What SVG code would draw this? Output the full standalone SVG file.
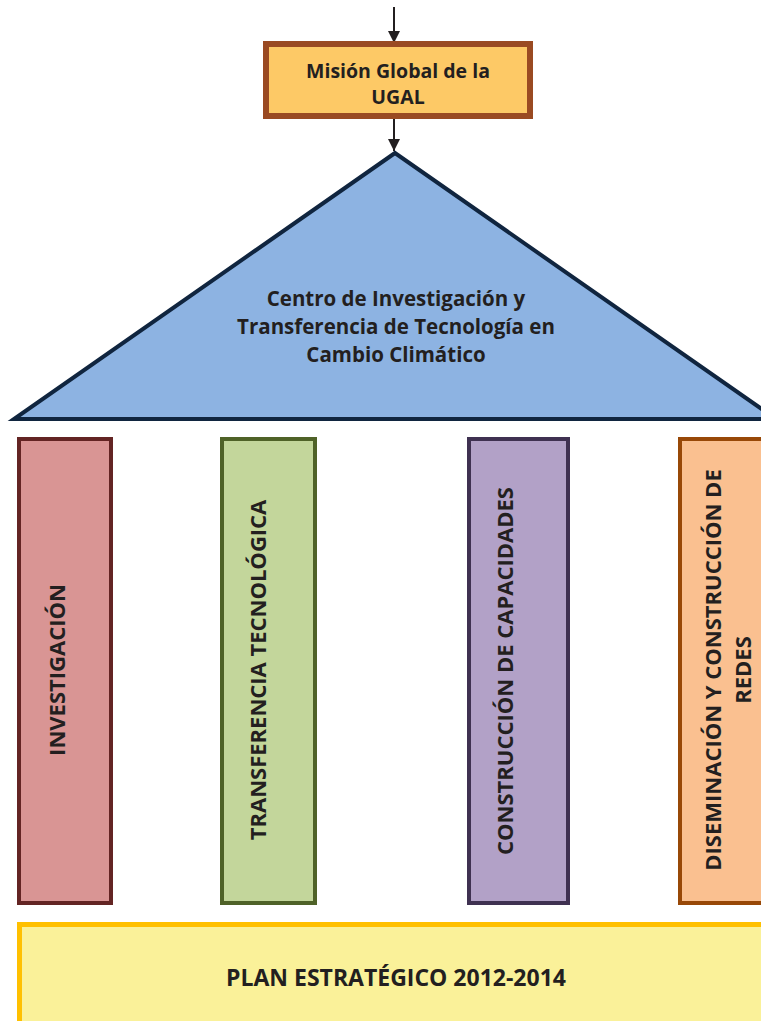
<svg xmlns="http://www.w3.org/2000/svg" width="761" height="1021" viewBox="0 0 761 1021">
<defs>
<style>
.t{font-family:"Open Sans","Noto Sans","Liberation Sans",sans-serif;font-weight:bold;fill:#231f20;text-anchor:middle}
.p{stroke-width:4}
</style>
<marker id="ah" markerWidth="12" markerHeight="12" refX="12" refY="6" orient="auto" markerUnits="userSpaceOnUse">
<path d="M0,0 L12,6 L0,12 Z" fill="#231f20"/>
</marker>
</defs>
<rect width="761" height="1021" fill="#ffffff"/>
<g id="connectors">
<line x1="394" y1="7" x2="394" y2="43" stroke="#231f20" stroke-width="2" marker-end="url(#ah)"/>
<line x1="394" y1="119" x2="394" y2="151" stroke="#231f20" stroke-width="2" marker-end="url(#ah)"/>
</g>
<g id="mision">
<rect x="266" y="44" width="264" height="72" fill="#fdc966" stroke="#9a4a22" stroke-width="6"/>
<text class="t" x="398" y="78" font-size="19.5">Misión Global de la</text>
<text class="t" x="398" y="104" font-size="19.5">UGAL</text>
</g>
<g id="centro">
<polygon points="395,153 14,419 776,419" fill="#8db3e2" stroke="#10253f" stroke-width="4" stroke-linejoin="miter"/>
<text class="t" x="396" y="306" font-size="20.5">Centro de Investigación y</text>
<text class="t" x="396" y="334" font-size="20.5">Transferencia de Tecnología en</text>
<text class="t" x="396" y="362" font-size="20.5">Cambio Climático</text>
</g>
<g id="investigacion">
<rect class="p" x="19" y="439" width="92" height="464" fill="#d99594" stroke="#632423"/>
<text class="t" transform="translate(65,670) rotate(-90)" font-size="22">INVESTIGACIÓN</text>
</g>
<g id="transferencia">
<rect class="p" x="222" y="439" width="93" height="464" fill="#c3d69b" stroke="#4f6228"/>
<text class="t" transform="translate(266,670) rotate(-90)" font-size="22">TRANSFERENCIA TECNOLÓGICA</text>
</g>
<g id="construccion">
<rect class="p" x="469" y="439" width="99" height="464" fill="#b2a1c7" stroke="#3f3151"/>
<text class="t" transform="translate(513,671) rotate(-90)" font-size="22">CONSTRUCCIÓN DE CAPACIDADES</text>
</g>
<g id="diseminacion">
<rect class="p" x="680" y="439" width="96" height="464" fill="#fac090" stroke="#984807"/>
<text class="t" transform="translate(721,670) rotate(-90)" font-size="22">DISEMINACIÓN Y CONSTRUCCIÓN DE</text>
<text class="t" transform="translate(751,670) rotate(-90)" font-size="22">REDES</text>
</g>
<g id="plan">
<rect x="19.5" y="924.5" width="760" height="110" fill="#faf199" stroke="#ffc000" stroke-width="5"/>
<text class="t" x="396" y="986" font-size="23">PLAN ESTRATÉGICO 2012-2014</text>
</g>
</svg>
